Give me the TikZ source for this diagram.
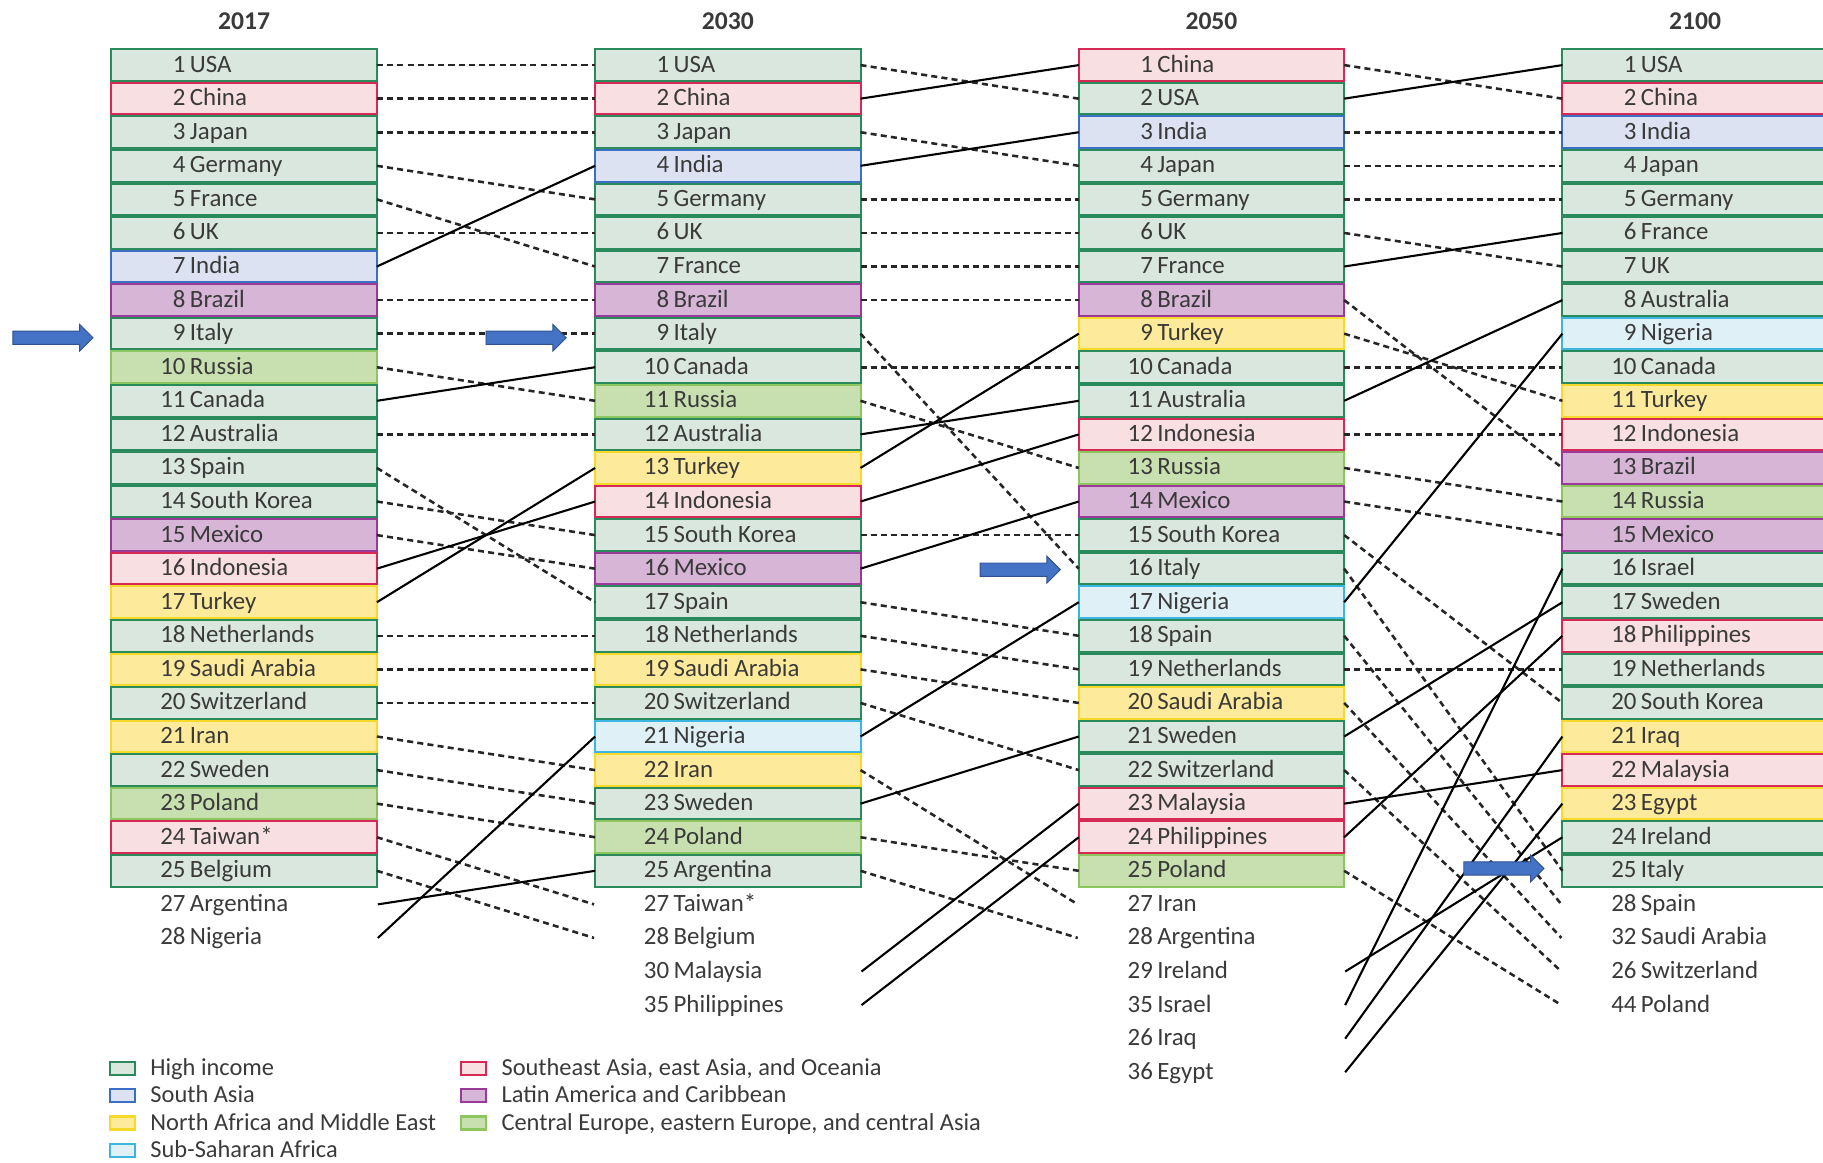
\documentclass[tikz,border=0pt]{standalone}
\usepackage{fontspec}
\setmainfont{Carlito}
\definecolor{hiB}{HTML}{2A8A5C}\definecolor{hiF}{HTML}{D9E7DF}
\definecolor{seB}{HTML}{D42A55}\definecolor{seF}{HTML}{F8DFE2}
\definecolor{saB}{HTML}{3A6FC4}\definecolor{saF}{HTML}{DDE2F3}
\definecolor{naB}{HTML}{F7D92A}\definecolor{naF}{HTML}{FDEA9B}
\definecolor{laB}{HTML}{9A3A98}\definecolor{laF}{HTML}{D6B5D6}
\definecolor{ceB}{HTML}{8DC65E}\definecolor{ceF}{HTML}{C8E0B0}
\definecolor{ssB}{HTML}{3CB6E0}\definecolor{ssF}{HTML}{E0F0F7}
\definecolor{txt}{HTML}{3A3A3A}
\definecolor{arrF}{HTML}{4472C4}\definecolor{arrB}{HTML}{2F528F}
\tikzset{
  rowbox/.style={draw=#1B, fill=#1F, line width=0.85pt, minimum width=114.15pt, minimum height=13.6pt, inner sep=0pt, outer sep=0pt},
  rowslot/.style={minimum width=115pt, minimum height=14.4pt, inner sep=0pt, outer sep=0pt},
  numtxt/.style={anchor=base east, inner sep=0pt, font=\fontsize{10.7}{12}\selectfont, text=txt},
  nametxt/.style={anchor=base west, inner sep=0pt, font=\fontsize{10.7}{12}\selectfont, text=txt},
  yeartxt/.style={inner sep=0pt, font=\fontsize{11}{13}\selectfont\bfseries, text=txt},
  legbox/.style={draw=#1B, fill=#1F, line width=1pt, minimum width=10.8pt, minimum height=5.6pt, inner sep=0pt, outer sep=0pt},
  legtxt/.style={anchor=base west, inner sep=0pt, font=\fontsize{10.5}{12}\selectfont, text=txt},
  fallline/.style={line width=1.1pt, black!85, dash pattern=on 2.6pt off 1.8pt},
  riseline/.style={line width=0.9pt, black},
  arrowshape/.style={fill=arrF, draw=arrB, line width=0.4pt}
}
\newcommand\boxcol[3]{%
  \foreach \r/\n/\t/\c in {#3} {
    \node[rowbox=\c] (#1\r) at ({#2+115},{56+(\r-1)*28.875}) {};
    \node[numtxt] (#1\r n) at ({#2+65},{62+(\r-1)*28.875}) {\n};
    \node[nametxt] (#1\r t) at ({#2+68},{62+(\r-1)*28.875}) {\t};
  }}
\newcommand\extracol[3]{%
  \foreach \r/\n/\t in {#3} {
    \node[rowslot] (#1\r) at ({#2+115},{56+(\r-1)*28.875}) {};
    \node[numtxt] (#1\r n) at ({#2+65},{62+(\r-1)*28.875}) {\n};
    \node[nametxt] (#1\r t) at ({#2+68},{62+(\r-1)*28.875}) {\t};
  }}
\newcommand\myarrow[2]{%
  \draw[arrowshape] ({#1},{#2-5.75}) -- ({#1+57.5},{#2-5.75}) -- ({#1+57.5},{#2-11.5})
    -- ({#1+69},{#2}) -- ({#1+57.5},{#2+11.5}) -- ({#1+57.5},{#2+5.75}) -- ({#1},{#2+5.75}) -- cycle;}
\begin{document}
\begin{tikzpicture}[x=0.5pt,y=-0.5pt]
\path[use as bounding box] (0,0) rectangle (1568,1000);
\clip (0,0) rectangle (1568,1000);
% titles
\node[yeartxt] (y1) at (210,18) {2017};
\node[yeartxt] (y2) at (626,18) {2030};
\node[yeartxt] (y3) at (1042,18) {2050};
\node[yeartxt] (y4) at (1458,18) {2100};
% columns
\boxcol{a}{95}{1/1/USA/hi,2/2/China/se,3/3/Japan/hi,4/4/Germany/hi,5/5/France/hi,6/6/UK/hi,7/7/India/sa,8/8/Brazil/la,9/9/Italy/hi,10/10/Russia/ce,11/11/Canada/hi,12/12/Australia/hi,13/13/Spain/hi,14/14/South Korea/hi,15/15/Mexico/la,16/16/Indonesia/se,17/17/Turkey/na,18/18/Netherlands/hi,19/19/Saudi Arabia/na,20/20/Switzerland/hi,21/21/Iran/na,22/22/Sweden/hi,23/23/Poland/ce,24/24/Taiwan*/se,25/25/Belgium/hi}
\extracol{a}{95}{26/27/Argentina,27/28/Nigeria}
\boxcol{b}{511}{1/1/USA/hi,2/2/China/se,3/3/Japan/hi,4/4/India/sa,5/5/Germany/hi,6/6/UK/hi,7/7/France/hi,8/8/Brazil/la,9/9/Italy/hi,10/10/Canada/hi,11/11/Russia/ce,12/12/Australia/hi,13/13/Turkey/na,14/14/Indonesia/se,15/15/South Korea/hi,16/16/Mexico/la,17/17/Spain/hi,18/18/Netherlands/hi,19/19/Saudi Arabia/na,20/20/Switzerland/hi,21/21/Nigeria/ss,22/22/Iran/na,23/23/Sweden/hi,24/24/Poland/ce,25/25/Argentina/hi}
\extracol{b}{511}{26/27/Taiwan*,27/28/Belgium,28/30/Malaysia,29/35/Philippines}
\boxcol{c}{927}{1/1/China/se,2/2/USA/hi,3/3/India/sa,4/4/Japan/hi,5/5/Germany/hi,6/6/UK/hi,7/7/France/hi,8/8/Brazil/la,9/9/Turkey/na,10/10/Canada/hi,11/11/Australia/hi,12/12/Indonesia/se,13/13/Russia/ce,14/14/Mexico/la,15/15/South Korea/hi,16/16/Italy/hi,17/17/Nigeria/ss,18/18/Spain/hi,19/19/Netherlands/hi,20/20/Saudi Arabia/na,21/21/Sweden/hi,22/22/Switzerland/hi,23/23/Malaysia/se,24/24/Philippines/se,25/25/Poland/ce}
\extracol{c}{927}{26/27/Iran,27/28/Argentina,28/29/Ireland,29/35/Israel,30/26/Iraq,31/36/Egypt}
\boxcol{d}{1343}{1/1/USA/hi,2/2/China/se,3/3/India/sa,4/4/Japan/hi,5/5/Germany/hi,6/6/France/hi,7/7/UK/hi,8/8/Australia/hi,9/9/Nigeria/ss,10/10/Canada/hi,11/11/Turkey/na,12/12/Indonesia/se,13/13/Brazil/la,14/14/Russia/ce,15/15/Mexico/la,16/16/Israel/hi,17/17/Sweden/hi,18/18/Philippines/se,19/19/Netherlands/hi,20/20/South Korea/hi,21/21/Iraq/na,22/22/Malaysia/se,23/23/Egypt/na,24/24/Ireland/hi,25/25/Italy/hi}
\extracol{d}{1343}{26/28/Spain,27/32/Saudi Arabia,28/26/Switzerland,29/44/Poland}
% connectors 2017 -> 2030
\foreach \f/\g in {1/1,2/2,3/3,4/5,5/7,6/6,8/8,9/9,10/11,12/12,13/17,14/15,15/16,18/18,19/19,20/20,21/22,22/23,23/24,24/26,25/27}
  \draw[fallline] (a\f.east) -- (b\g.west);
\foreach \f/\g in {7/4,11/10,16/14,17/13,26/25,27/21}
  \draw[riseline] (a\f.east) -- (b\g.west);
% connectors 2030 -> 2050
\foreach \f/\g in {1/2,3/4,5/5,6/6,7/7,8/8,9/16,10/10,11/13,15/15,17/18,18/19,19/20,20/22,22/26,24/25,25/27}
  \draw[fallline] (b\f.east) -- (c\g.west);
\foreach \f/\g in {2/1,4/3,12/11,13/9,14/12,16/14,21/17,23/21,28/23,29/24}
  \draw[riseline] (b\f.east) -- (c\g.west);
% connectors 2050 -> 2100
\foreach \f/\g in {1/2,3/3,4/4,5/5,6/7,8/13,9/11,10/10,12/12,13/14,14/15,15/20,16/25,18/26,19/19,20/27,22/28,25/29}
  \draw[fallline] (c\f.east) -- (d\g.west);
\foreach \f/\g in {2/1,7/6,11/8,17/9,21/17,23/22,24/18,28/24,29/16,30/21,31/23}
  \draw[riseline] (c\f.east) -- (d\g.west);
% legend
\node[legbox=hi] (lg1) at (105.5,919) {};
\node[legtxt] (lt1) at (129,925) {High income};
\node[legbox=sa] (lg2) at (105.5,942.5) {};
\node[legtxt] (lt2) at (129,948.5) {South Asia};
\node[legbox=na] (lg3) at (105.5,966) {};
\node[legtxt] (lt3) at (129,972) {North Africa and Middle East};
\node[legbox=ss] (lg4) at (105.5,989.5) {};
\node[legtxt] (lt4) at (129,995.5) {Sub-Saharan Africa};
\node[legbox=se] (lg5) at (407.5,919) {};
\node[legtxt] (lt5) at (431,925) {Southeast Asia, east Asia, and Oceania};
\node[legbox=la] (lg6) at (407.5,942.5) {};
\node[legtxt] (lt6) at (431,948.5) {Latin America and Caribbean};
\node[legbox=ce] (lg7) at (407.5,966) {};
\node[legtxt] (lt7) at (431,972) {Central Europe, eastern Europe, and central Asia};
% blue arrows
\myarrow{11}{290.5}
\myarrow{418}{290.5}
\myarrow{843}{490}
\myarrow{1259}{747}
\end{tikzpicture}
\end{document}
